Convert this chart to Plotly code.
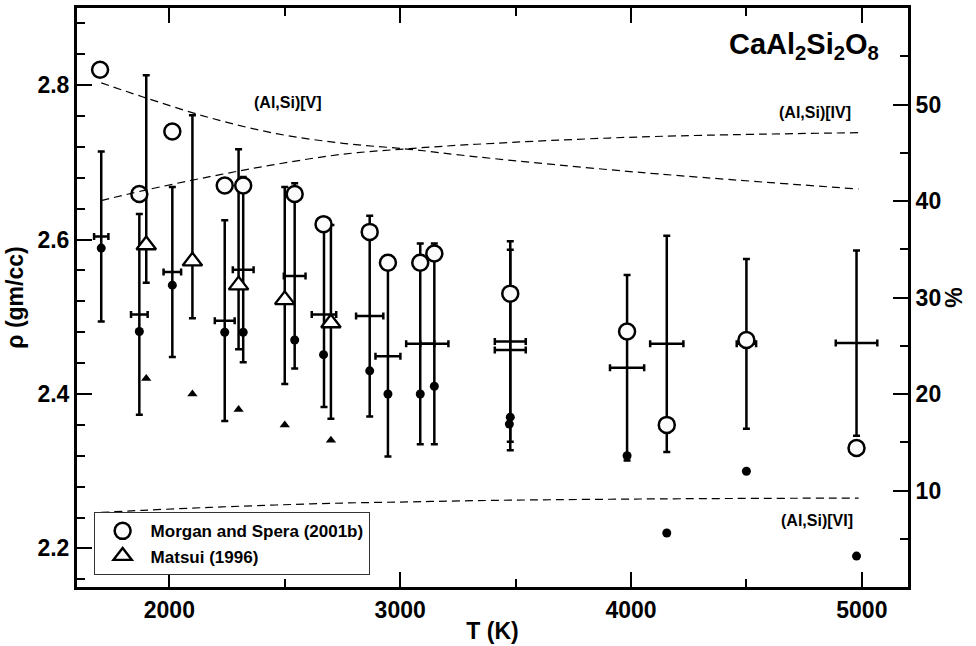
import plotly.graph_objects as go

# ---------------- data ----------------
# averaged values with T and rho uncertainty (crosses)
cross_T = [1705, 1870, 2013, 2240, 2320, 2543, 2670, 2868, 2947, 3087, 3148, 3477, 3477, 3983, 4155, 4500, 4977]
cross_rho = [2.604, 2.503, 2.558, 2.495, 2.561, 2.553, 2.503, 2.501, 2.449, 2.465, 2.465, 2.468, 2.457, 2.434, 2.465, 2.465, 2.466]
cross_Terr = [31, 36, 38, 43, 45, 47, 53, 59, 54, 61, 61, 67, 67, 74, 72, 42, 90]
cross_rhoerr = [0.11, 0.13, 0.11, 0.13, 0.12, 0.12, 0.12, 0.13, 0.13, 0.13, 0.13, 0.13, 0.13, 0.12, 0.14, 0.11, 0.12]

# filled dots
dot_T = [1705, 1870, 2013, 2240, 2320, 2543, 2668, 2868, 2947, 3087, 3148, 3477, 3473, 3983, 4155, 4500, 4977]
dot_rho = [2.589, 2.481, 2.541, 2.48, 2.48, 2.47, 2.451, 2.43, 2.40, 2.40, 2.41, 2.37, 2.361, 2.32, 2.22, 2.30, 2.19]

# Morgan and Spera (2001b)
ms_T = [1700, 1870, 2013, 2240, 2320, 2543, 2668, 2868, 2947, 3087, 3148, 3477, 3983, 4155, 4500, 4977]
ms_rho = [2.82, 2.659, 2.74, 2.67, 2.67, 2.659, 2.62, 2.61, 2.57, 2.57, 2.582, 2.53, 2.481, 2.36, 2.47, 2.33]

# Matsui (1996)
mat_T = [1900, 2100, 2300, 2500, 2700]
mat_rho = [2.593, 2.572, 2.541, 2.522, 2.492]
mat_err_plus = [0.22, 0.189, 0.176, 0.146, 0.127]
mat_err_minus = [0.049, 0.074, 0.083, 0.109, 0.124]

# small filled triangles
ftri_T = [1900, 2100, 2300, 2500, 2700]
ftri_rho = [2.42, 2.40, 2.38, 2.36, 2.34]

# coordination percentages (right axis)
cn_T = [1705, 1886, 2175, 2464, 2752, 3041, 3330, 4041, 4986]
cn_V = [52.24, 50.78, 48.63, 46.98, 45.98, 45.36, 44.58, 42.96, 41.24]
cn_IV = [40.04, 41.07, 42.52, 43.81, 44.85, 45.43, 45.88, 46.64, 47.08]
cn_VI = [7.73, 7.95, 8.25, 8.5, 8.7, 8.82, 8.95, 9.12, 9.22]

x_ticks = [2000, 3000, 4000, 5000]
x_minor = [2500, 3500, 4500]
y_ticks = [2.2, 2.4, 2.6, 2.8]
y_minor = [round(2.16 + 0.04 * i, 2) for i in range(19)]
y2_ticks = [10, 20, 30, 40, 50]
y2_minor = [5, 15, 25, 35, 45, 55]

FONT = "Liberation Sans, Arial, Helvetica, sans-serif"

fig = go.Figure()

# dashed coordination curves
for yy in (cn_V, cn_IV, cn_VI):
    fig.add_trace(go.Scatter(x=cn_T, y=yy, yaxis="y2", mode="lines", showlegend=False,
                             line=dict(color="black", width=1.2, dash="8px,5px", shape="spline"),
                             hoverinfo="skip"))

# crosses
fig.add_trace(go.Scatter(
    x=cross_T, y=cross_rho, mode="markers", showlegend=False,
    marker=dict(size=2, color="rgba(0,0,0,0)"),
    error_x=dict(type="data", array=cross_Terr, visible=True, color="black", thickness=2.5, width=3.5),
    error_y=dict(type="data", array=cross_rhoerr, visible=True, color="black", thickness=2.5, width=3.5),
))

# Matsui open triangles
fig.add_trace(go.Scatter(
    x=mat_T, y=mat_rho, mode="markers", name="Matsui (1996)",
    marker=dict(symbol="triangle-up", size=17, color="white", line=dict(color="black", width=2.3)),
    error_y=dict(type="data", symmetric=False, array=mat_err_plus, arrayminus=mat_err_minus,
                 visible=True, color="black", thickness=2.5, width=3.5),
))

# filled triangles
fig.add_trace(go.Scatter(
    x=ftri_T, y=ftri_rho, mode="markers", showlegend=False,
    marker=dict(symbol="triangle-up", size=9, color="black"),
))

# filled dots
fig.add_trace(go.Scatter(
    x=dot_T, y=dot_rho, mode="markers", showlegend=False,
    marker=dict(symbol="circle", size=9, color="black"),
))

# Morgan & Spera open circles
fig.add_trace(go.Scatter(
    x=ms_T, y=ms_rho, mode="markers", name="Morgan and Spera (2001b)",
    marker=dict(symbol="circle", size=16, color="#fbfbfb", line=dict(color="black", width=2.5)),
))

annos = [
    dict(text="CaAl<sub>2</sub>Si<sub>2</sub>O<sub>8</sub>", x=0.968, y=0.935, xanchor="right", yanchor="middle",
         font=dict(size=29, weight="bold")),
    dict(text="(Al,Si)[V]", x=0.2535, y=0.8368, xanchor="center", yanchor="middle", font=dict(size=16, weight="bold")),
    dict(text="(Al,Si)[IV]", x=0.888, y=0.819, xanchor="center", yanchor="middle", font=dict(size=16, weight="bold")),
    dict(text="(Al,Si)[VI]", x=0.890, y=0.1146, xanchor="center", yanchor="middle", font=dict(size=16, weight="bold")),
]
for a in annos:
    a.update(xref="paper", yref="paper", showarrow=False)

TICKFONT = dict(size=23, weight="bold")

fig.update_layout(
    width=976, height=646,
    margin=dict(l=77, r=68, t=5, b=59),
    paper_bgcolor="white", plot_bgcolor="white",
    font=dict(family=FONT, color="black"),
    annotations=annos,
    showlegend=True,
    legend=dict(x=0.02, y=0.129, xanchor="left", yanchor="top", bgcolor="white",
                bordercolor="#333", borderwidth=1, font=dict(size=17, weight="bold"),
                traceorder="reversed", itemsizing="trace", itemwidth=46),
    xaxis=dict(range=[1600, 5200], tickvals=x_ticks, ticks="inside", ticklen=15, tickwidth=1.5,
               tickcolor="black", showline=True, linewidth=3, linecolor="black", mirror="ticks",
               showgrid=False, zeroline=False, tickfont=TICKFONT,
               title=dict(text="T (K)", font=dict(size=23, weight="bold"), standoff=2),
               minor=dict(tickvals=x_minor, ticks="inside", ticklen=8, tickwidth=1.5, tickcolor="black", showgrid=False)),
    yaxis=dict(range=[2.15, 2.9], tickvals=y_ticks, ticktext=["2.2", "2.4", "2.6", "2.8"], ticks="inside",
               ticklen=15, tickwidth=1.5, tickcolor="black", showline=True, linewidth=3, linecolor="black",
               showgrid=False, zeroline=False, tickfont=TICKFONT,
               title=dict(text="ρ (gm/cc)", font=dict(size=23, weight="bold"), standoff=8),
               minor=dict(tickvals=y_minor, ticks="inside", ticklen=8, tickwidth=1.5, tickcolor="black", showgrid=False)),
    yaxis2=dict(range=[0, 60], overlaying="y", side="right", tickvals=y2_ticks, ticks="inside",
                ticklen=15, tickwidth=1.5, tickcolor="black", showline=True, linewidth=3, linecolor="black",
                showgrid=False, zeroline=False, tickfont=TICKFONT,
                title=dict(text="%", font=dict(size=23, weight="bold"), standoff=4),
                minor=dict(tickvals=y2_minor, ticks="inside", ticklen=8, tickwidth=1.5, tickcolor="black", showgrid=False)),
)

fig.write_html("out.html", config={"displayModeBar": False},
               post_script="document.body.style.margin='0px';")
